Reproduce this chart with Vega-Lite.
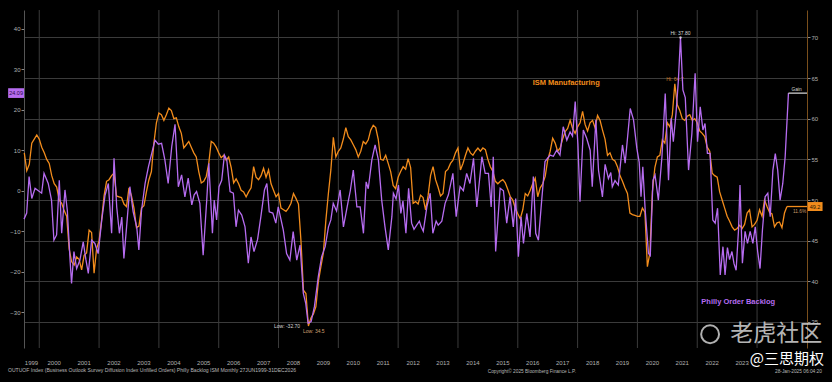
{
"$schema": "https://vega.github.io/schema/vega-lite/v6.json",
"width": 783, "height": 338,
"autosize": {"type": "none"},
"padding": {"left": 24, "top": 10, "right": 25, "bottom": 34},
"background": "#000000",
"config": {"view": {"stroke": null}, "font": "Liberation Sans"},
"datasets": {
"years": [{"t":2000},{"t":2002},{"t":2004},{"t":2006},{"t":2008},{"t":2010},{"t":2012},{"t":2014},{"t":2016},{"t":2018},{"t":2020},{"t":2022},{"t":2024}],
"labels": [{"t":1999.74,"s":"1999"},{"t":2000.5,"s":"2000"},{"t":2001.5,"s":"2001"},{"t":2002.5,"s":"2002"},{"t":2003.5,"s":"2003"},{"t":2004.5,"s":"2004"},{"t":2005.5,"s":"2005"},{"t":2006.5,"s":"2006"},{"t":2007.5,"s":"2007"},{"t":2008.5,"s":"2008"},{"t":2009.5,"s":"2009"},{"t":2010.5,"s":"2010"},{"t":2011.5,"s":"2011"},{"t":2012.5,"s":"2012"},{"t":2013.5,"s":"2013"},{"t":2014.5,"s":"2014"},{"t":2015.5,"s":"2015"},{"t":2016.5,"s":"2016"},{"t":2017.5,"s":"2017"},{"t":2018.5,"s":"2018"},{"t":2019.5,"s":"2019"},{"t":2020.5,"s":"2020"},{"t":2021.5,"s":"2021"},{"t":2022.5,"s":"2022"},{"t":2023.5,"s":"2023"}],
"ism": [
{"t":1999.5,"v":55.8},{"t":1999.583,"v":53.6},{"t":1999.667,"v":54.4},{"t":1999.75,"v":57.0},{"t":1999.833,"v":57.5},{"t":1999.917,"v":58.0},{"t":2000.0,"v":57.5},
{"t":2000.083,"v":56.5},{"t":2000.167,"v":55.8},{"t":2000.25,"v":55.0},{"t":2000.333,"v":54.5},{"t":2000.417,"v":53.0},{"t":2000.5,"v":52.0},{"t":2000.583,"v":51.6},{"t":2000.667,"v":50.0},{"t":2000.75,"v":49.6},{"t":2000.833,"v":48.7},{"t":2000.917,"v":48.0},{"t":2001.0,"v":44.0},
{"t":2001.083,"v":42.4},{"t":2001.167,"v":42.0},{"t":2001.25,"v":43.0},{"t":2001.333,"v":42.7},{"t":2001.417,"v":41.4},{"t":2001.5,"v":43.2},{"t":2001.583,"v":43.5},{"t":2001.667,"v":46.3},{"t":2001.75,"v":46.0},{"t":2001.833,"v":41.0},{"t":2001.917,"v":44.0},{"t":2002.0,"v":45.0},
{"t":2002.083,"v":47.5},{"t":2002.167,"v":50.5},{"t":2002.25,"v":52.3},{"t":2002.333,"v":52.5},{"t":2002.417,"v":53.0},{"t":2002.5,"v":53.3},{"t":2002.583,"v":50.5},{"t":2002.667,"v":50.4},{"t":2002.75,"v":50.3},{"t":2002.833,"v":49.5},{"t":2002.917,"v":49.2},{"t":2003.0,"v":51.5},
{"t":2003.083,"v":50.5},{"t":2003.167,"v":49.0},{"t":2003.25,"v":46.6},{"t":2003.333,"v":46.8},{"t":2003.417,"v":49.0},{"t":2003.5,"v":49.3},{"t":2003.583,"v":51.0},{"t":2003.667,"v":52.5},{"t":2003.75,"v":53.5},{"t":2003.833,"v":57.0},{"t":2003.917,"v":59.5},{"t":2004.0,"v":60.7},
{"t":2004.083,"v":60.5},{"t":2004.167,"v":59.8},{"t":2004.25,"v":60.5},{"t":2004.333,"v":61.3},{"t":2004.417,"v":61.0},{"t":2004.5,"v":60.0},{"t":2004.583,"v":60.1},{"t":2004.667,"v":59.0},{"t":2004.75,"v":58.2},{"t":2004.833,"v":56.4},{"t":2004.917,"v":56.8},{"t":2005.0,"v":57.2},
{"t":2005.083,"v":56.5},{"t":2005.167,"v":55.8},{"t":2005.25,"v":55.3},{"t":2005.333,"v":53.5},{"t":2005.417,"v":52.1},{"t":2005.5,"v":52.3},{"t":2005.583,"v":52.9},{"t":2005.667,"v":54.5},{"t":2005.75,"v":57.2},{"t":2005.833,"v":57.0},{"t":2005.917,"v":56.5},{"t":2006.0,"v":55.8},
{"t":2006.083,"v":55.2},{"t":2006.167,"v":55.5},{"t":2006.25,"v":54.9},{"t":2006.333,"v":55.3},{"t":2006.417,"v":54.0},{"t":2006.5,"v":52.1},{"t":2006.583,"v":52.6},{"t":2006.667,"v":52.0},{"t":2006.75,"v":51.2},{"t":2006.833,"v":51.0},{"t":2006.917,"v":50.4},{"t":2007.0,"v":51.0},
{"t":2007.083,"v":51.5},{"t":2007.167,"v":54.1},{"t":2007.25,"v":52.8},{"t":2007.333,"v":52.5},{"t":2007.417,"v":53.0},{"t":2007.5,"v":53.9},{"t":2007.583,"v":52.8},{"t":2007.667,"v":53.7},{"t":2007.75,"v":52.0},{"t":2007.833,"v":51.2},{"t":2007.917,"v":50.4},{"t":2008.0,"v":50.8},
{"t":2008.083,"v":49.0},{"t":2008.167,"v":48.8},{"t":2008.25,"v":48.6},{"t":2008.333,"v":49.0},{"t":2008.417,"v":49.6},{"t":2008.5,"v":50.8},{"t":2008.583,"v":50.2},{"t":2008.667,"v":49.5},{"t":2008.75,"v":45.0},{"t":2008.833,"v":38.9},{"t":2008.917,"v":38.5},{"t":2009.0,"v":34.5},
{"t":2009.083,"v":35.5},{"t":2009.167,"v":36.0},{"t":2009.25,"v":36.9},{"t":2009.333,"v":40.0},{"t":2009.417,"v":41.8},{"t":2009.5,"v":43.5},{"t":2009.583,"v":47.5},{"t":2009.667,"v":50.8},{"t":2009.75,"v":53.7},{"t":2009.833,"v":57.7},{"t":2009.917,"v":55.3},{"t":2010.0,"v":56.0},
{"t":2010.083,"v":56.4},{"t":2010.167,"v":57.5},{"t":2010.25,"v":58.9},{"t":2010.333,"v":57.8},{"t":2010.417,"v":57.4},{"t":2010.5,"v":56.8},{"t":2010.583,"v":56.2},{"t":2010.667,"v":55.3},{"t":2010.75,"v":56.0},{"t":2010.833,"v":57.2},{"t":2010.917,"v":56.9},{"t":2011.0,"v":57.4},
{"t":2011.083,"v":58.6},{"t":2011.167,"v":59.2},{"t":2011.25,"v":58.9},{"t":2011.333,"v":57.5},{"t":2011.417,"v":55.0},{"t":2011.5,"v":54.9},{"t":2011.583,"v":55.5},{"t":2011.667,"v":54.5},{"t":2011.75,"v":53.5},{"t":2011.833,"v":51.8},{"t":2011.917,"v":51.4},{"t":2012.0,"v":52.8},
{"t":2012.083,"v":53.5},{"t":2012.167,"v":54.1},{"t":2012.25,"v":53.8},{"t":2012.333,"v":55.1},{"t":2012.417,"v":54.0},{"t":2012.5,"v":49.6},{"t":2012.583,"v":49.8},{"t":2012.667,"v":49.5},{"t":2012.75,"v":50.6},{"t":2012.833,"v":50.3},{"t":2012.917,"v":48.8},{"t":2013.0,"v":50.5},
{"t":2013.083,"v":53.0},{"t":2013.167,"v":54.1},{"t":2013.25,"v":52.5},{"t":2013.333,"v":51.6},{"t":2013.417,"v":50.5},{"t":2013.5,"v":50.8},{"t":2013.583,"v":53.5},{"t":2013.667,"v":53.8},{"t":2013.75,"v":54.5},{"t":2013.833,"v":54.9},{"t":2013.917,"v":55.8},{"t":2014.0,"v":56.4},
{"t":2014.083,"v":53.7},{"t":2014.167,"v":54.5},{"t":2014.25,"v":55.5},{"t":2014.333,"v":56.4},{"t":2014.417,"v":55.8},{"t":2014.5,"v":55.5},{"t":2014.583,"v":56.0},{"t":2014.667,"v":56.4},{"t":2014.75,"v":56.0},{"t":2014.833,"v":56.4},{"t":2014.917,"v":56.2},{"t":2015.0,"v":55.0},
{"t":2015.083,"v":54.1},{"t":2015.167,"v":53.5},{"t":2015.25,"v":52.3},{"t":2015.333,"v":52.0},{"t":2015.417,"v":52.3},{"t":2015.5,"v":52.5},{"t":2015.583,"v":52.1},{"t":2015.667,"v":51.3},{"t":2015.75,"v":50.4},{"t":2015.833,"v":50.0},{"t":2015.917,"v":49.0},{"t":2016.0,"v":48.3},
{"t":2016.083,"v":47.7},{"t":2016.167,"v":48.8},{"t":2016.25,"v":50.8},{"t":2016.333,"v":50.5},{"t":2016.417,"v":51.2},{"t":2016.5,"v":52.0},{"t":2016.583,"v":52.7},{"t":2016.667,"v":50.4},{"t":2016.75,"v":51.5},{"t":2016.833,"v":52.0},{"t":2016.917,"v":52.9},{"t":2017.0,"v":54.9},
{"t":2017.083,"v":56.0},{"t":2017.167,"v":57.6},{"t":2017.25,"v":57.0},{"t":2017.333,"v":56.0},{"t":2017.417,"v":56.4},{"t":2017.5,"v":57.5},{"t":2017.583,"v":58.4},{"t":2017.667,"v":58.8},{"t":2017.75,"v":59.8},{"t":2017.833,"v":58.8},{"t":2017.917,"v":58.2},{"t":2018.0,"v":59.0},
{"t":2018.083,"v":59.5},{"t":2018.167,"v":60.9},{"t":2018.25,"v":59.3},{"t":2018.333,"v":58.5},{"t":2018.417,"v":59.5},{"t":2018.5,"v":59.8},{"t":2018.583,"v":58.9},{"t":2018.667,"v":60.4},{"t":2018.75,"v":59.8},{"t":2018.833,"v":58.6},{"t":2018.917,"v":57.5},{"t":2019.0,"v":55.5},
{"t":2019.083,"v":55.8},{"t":2019.167,"v":55.0},{"t":2019.25,"v":54.8},{"t":2019.333,"v":54.1},{"t":2019.417,"v":53.0},{"t":2019.5,"v":52.3},{"t":2019.583,"v":51.5},{"t":2019.667,"v":50.8},{"t":2019.75,"v":48.4},{"t":2019.833,"v":48.2},{"t":2019.917,"v":48.1},{"t":2020.0,"v":48.0},
{"t":2020.083,"v":48.0},{"t":2020.167,"v":49.0},{"t":2020.25,"v":48.5},{"t":2020.333,"v":41.8},{"t":2020.417,"v":43.5},{"t":2020.5,"v":51.0},{"t":2020.583,"v":54.0},{"t":2020.667,"v":55.3},{"t":2020.75,"v":55.5},{"t":2020.833,"v":57.4},{"t":2020.917,"v":57.0},{"t":2021.0,"v":59.5},
{"t":2021.083,"v":59.0},{"t":2021.167,"v":60.5},{"t":2021.25,"v":64.3},{"t":2021.333,"v":61.7},{"t":2021.417,"v":61.0},{"t":2021.5,"v":60.0},{"t":2021.583,"v":59.8},{"t":2021.667,"v":60.3},{"t":2021.75,"v":60.5},{"t":2021.833,"v":59.8},{"t":2021.917,"v":60.0},{"t":2022.0,"v":59.5},
{"t":2022.083,"v":58.5},{"t":2022.167,"v":58.2},{"t":2022.25,"v":57.8},{"t":2022.333,"v":56.5},{"t":2022.417,"v":56.0},{"t":2022.5,"v":53.3},{"t":2022.583,"v":53.0},{"t":2022.667,"v":52.8},{"t":2022.75,"v":51.0},{"t":2022.833,"v":50.0},{"t":2022.917,"v":49.0},{"t":2023.0,"v":48.0},
{"t":2023.083,"v":47.4},{"t":2023.167,"v":46.7},{"t":2023.25,"v":46.3},{"t":2023.333,"v":46.5},{"t":2023.417,"v":46.9},{"t":2023.5,"v":46.5},{"t":2023.583,"v":47.0},{"t":2023.667,"v":48.4},{"t":2023.75,"v":48.8},{"t":2023.833,"v":46.7},{"t":2023.917,"v":47.0},{"t":2024.0,"v":47.5},
{"t":2024.083,"v":48.8},{"t":2024.167,"v":48.0},{"t":2024.25,"v":50.0},{"t":2024.333,"v":49.2},{"t":2024.417,"v":48.5},{"t":2024.5,"v":48.3},{"t":2024.583,"v":46.7},{"t":2024.667,"v":47.2},{"t":2024.75,"v":47.3},{"t":2024.833,"v":46.6},{"t":2024.917,"v":48.4},{"t":2025.0,"v":49.2}
],
"philly": [
{"t":1999.49,"v":-7},{"t":1999.58,"v":-5.5},{"t":1999.66,"v":3.5},{"t":1999.75,"v":-1.9},{"t":1999.86,"v":0.6},{"t":1999.97,"v":0},{"t":2000.08,"v":-0.6},{"t":2000.16,"v":4.3},{"t":2000.3,"v":1.8},{"t":2000.41,"v":-2.3},{"t":2000.49,"v":-12.2},{"t":2000.58,"v":-10.9},{"t":2000.67,"v":2.6},{"t":2000.75,"v":-10.5},{"t":2000.86,"v":0.2},{"t":2000.94,"v":-5},
{"t":2001.03,"v":-17.1},{"t":2001.08,"v":-22.9},{"t":2001.16,"v":-15},{"t":2001.25,"v":-19.2},{"t":2001.36,"v":-17.1},{"t":2001.47,"v":-12.6},{"t":2001.56,"v":-17},{"t":2001.64,"v":-20.4},{"t":2001.75,"v":-12.2},{"t":2001.86,"v":-13},{"t":2001.97,"v":-15.5},
{"t":2002.09,"v":-7.2},{"t":2002.2,"v":-1.1},{"t":2002.31,"v":1.8},{"t":2002.42,"v":-10.5},{"t":2002.5,"v":8},{"t":2002.59,"v":-4},{"t":2002.68,"v":-10.5},{"t":2002.76,"v":-6.5},{"t":2002.83,"v":-16.7},{"t":2002.92,"v":-8.9},
{"t":2003.03,"v":1},{"t":2003.14,"v":-5.2},{"t":2003.26,"v":-9},{"t":2003.33,"v":-14.6},{"t":2003.42,"v":-4.8},{"t":2003.54,"v":1.8},{"t":2003.65,"v":5.9},{"t":2003.76,"v":9.2},{"t":2003.87,"v":12.5},{"t":2003.98,"v":11.5},
{"t":2004.09,"v":11.7},{"t":2004.2,"v":7.6},{"t":2004.31,"v":1.8},{"t":2004.43,"v":10.9},{"t":2004.54,"v":16.4},{"t":2004.65,"v":1},{"t":2004.76,"v":3.9},{"t":2004.87,"v":-1.5},{"t":2004.98,"v":3.1},
{"t":2005.1,"v":-3.5},{"t":2005.18,"v":-1},{"t":2005.26,"v":-0.2},{"t":2005.37,"v":-3.1},{"t":2005.48,"v":-15.9},{"t":2005.6,"v":-2.3},{"t":2005.67,"v":6.8},{"t":2005.79,"v":-10.5},{"t":2005.85,"v":-2.3},{"t":2005.93,"v":-7.2},
{"t":2006.01,"v":1},{"t":2006.1,"v":2.6},{"t":2006.19,"v":8.8},{"t":2006.27,"v":7.6},{"t":2006.38,"v":-0.2},{"t":2006.49,"v":-0.6},{"t":2006.58,"v":-8.9},{"t":2006.66,"v":-4.8},{"t":2006.77,"v":-6},{"t":2006.88,"v":-8.9},{"t":2006.99,"v":-17.9},
{"t":2007.08,"v":-11.4},{"t":2007.18,"v":-15},{"t":2007.3,"v":-12},{"t":2007.41,"v":-6.4},{"t":2007.53,"v":0.2},{"t":2007.61,"v":1.8},{"t":2007.69,"v":-5.2},{"t":2007.81,"v":-5.5},{"t":2007.91,"v":-8},{"t":2007.99,"v":-4},
{"t":2008.08,"v":-7},{"t":2008.16,"v":-9.7},{"t":2008.27,"v":-15.5},{"t":2008.38,"v":-17.1},{"t":2008.49,"v":-10.1},{"t":2008.61,"v":-17.1},{"t":2008.72,"v":-13.4},{"t":2008.83,"v":-25.3},{"t":2008.91,"v":-27.8},{"t":2008.99,"v":-32.7},
{"t":2009.09,"v":-32.3},{"t":2009.2,"v":-28.6},{"t":2009.33,"v":-21.2},{"t":2009.44,"v":-16.3},{"t":2009.56,"v":-13.8},{"t":2009.67,"v":-8.9},{"t":2009.75,"v":-7.2},{"t":2009.83,"v":-3.1},{"t":2009.94,"v":-5},
{"t":2010.06,"v":0.2},{"t":2010.17,"v":-8.9},{"t":2010.32,"v":-3},{"t":2010.4,"v":0},{"t":2010.5,"v":5.1},{"t":2010.62,"v":-4},{"t":2010.73,"v":-4},{"t":2010.84,"v":-10.5},{"t":2010.93,"v":2.2},
{"t":2011.0,"v":0.5},{"t":2011.12,"v":7.6},{"t":2011.23,"v":11.3},{"t":2011.34,"v":7.6},{"t":2011.45,"v":-2.3},{"t":2011.56,"v":-8.9},{"t":2011.67,"v":-14.6},{"t":2011.79,"v":-6.4},{"t":2011.84,"v":-0.6},{"t":2011.93,"v":-2},
{"t":2012.01,"v":1.4},{"t":2012.09,"v":-5.6},{"t":2012.16,"v":-2.5},{"t":2012.26,"v":-10.5},{"t":2012.35,"v":0.6},{"t":2012.45,"v":-8},{"t":2012.53,"v":-9.5},{"t":2012.62,"v":-8.5},{"t":2012.71,"v":-7.5},{"t":2012.77,"v":-8.9},{"t":2012.84,"v":-10},{"t":2012.96,"v":-4},
{"t":2013.07,"v":-0.6},{"t":2013.16,"v":-10.5},{"t":2013.27,"v":-7.5},{"t":2013.34,"v":-8.5},{"t":2013.46,"v":-7.5},{"t":2013.57,"v":-3.1},{"t":2013.68,"v":-1},{"t":2013.83,"v":4.3},{"t":2013.94,"v":-6.4},
{"t":2014.07,"v":1},{"t":2014.18,"v":0},{"t":2014.29,"v":4.3},{"t":2014.4,"v":1.8},{"t":2014.52,"v":8},{"t":2014.63,"v":-4},{"t":2014.8,"v":8.4},{"t":2014.91,"v":4.3},
{"t":2015.02,"v":4.3},{"t":2015.11,"v":-4},{"t":2015.18,"v":8.4},{"t":2015.26,"v":-15},{"t":2015.41,"v":0.6},{"t":2015.52,"v":0},{"t":2015.63,"v":-8},{"t":2015.74,"v":-1.5},{"t":2015.85,"v":-8.9},{"t":2015.93,"v":-1.9},
{"t":2016.02,"v":-16.3},{"t":2016.11,"v":-6.4},{"t":2016.19,"v":-13},{"t":2016.3,"v":-5.6},{"t":2016.41,"v":-11.4},{"t":2016.52,"v":3.5},{"t":2016.6,"v":-10.5},{"t":2016.69,"v":-12.2},{"t":2016.8,"v":-2.3},{"t":2016.91,"v":7.2},
{"t":2017.08,"v":8.8},{"t":2017.19,"v":8.5},{"t":2017.3,"v":10},{"t":2017.41,"v":8.8},{"t":2017.52,"v":15.8},{"t":2017.64,"v":12.5},{"t":2017.75,"v":14.5},{"t":2017.83,"v":13.5},{"t":2017.92,"v":22},
{"t":2018.01,"v":11.5},{"t":2018.08,"v":-2.7},{"t":2018.19,"v":15},{"t":2018.3,"v":13},{"t":2018.42,"v":10},{"t":2018.49,"v":1},{"t":2018.61,"v":17.5},{"t":2018.7,"v":5},{"t":2018.83,"v":-1.5},{"t":2018.92,"v":6.5},
{"t":2019.03,"v":3},{"t":2019.11,"v":4.5},{"t":2019.16,"v":1},{"t":2019.25,"v":2.5},{"t":2019.36,"v":1.4},{"t":2019.5,"v":11.3},{"t":2019.59,"v":6.8},{"t":2019.76,"v":20.3},{"t":2019.87,"v":17.5},{"t":2019.98,"v":10.5},
{"t":2020.06,"v":7},{"t":2020.12,"v":-1.5},{"t":2020.18,"v":5.9},{"t":2020.26,"v":-4.8},{"t":2020.37,"v":-15.5},{"t":2020.43,"v":-16},{"t":2020.52,"v":2.6},{"t":2020.59,"v":3.9},{"t":2020.7,"v":-2.3},{"t":2020.82,"v":8.4},{"t":2020.93,"v":24},
{"t":2021.04,"v":2.6},{"t":2021.13,"v":17.9},{"t":2021.2,"v":12.1},{"t":2021.29,"v":19.1},{"t":2021.37,"v":27.3},{"t":2021.44,"v":37.8},{"t":2021.52,"v":24.9},{"t":2021.6,"v":23},{"t":2021.71,"v":5.1},{"t":2021.82,"v":14},{"t":2021.93,"v":29},
{"t":2022.01,"v":12.1},{"t":2022.1,"v":20.7},{"t":2022.19,"v":15},{"t":2022.26,"v":16.6},{"t":2022.34,"v":9.2},{"t":2022.43,"v":9.2},{"t":2022.52,"v":-7.2},{"t":2022.6,"v":-8},{"t":2022.68,"v":-4.3},{"t":2022.77,"v":-20.8},{"t":2022.86,"v":-13.8},{"t":2022.93,"v":-20.8},
{"t":2023.01,"v":-14},{"t":2023.08,"v":-17},{"t":2023.16,"v":-15},{"t":2023.23,"v":-18},{"t":2023.3,"v":-19.6},{"t":2023.38,"v":-9.7},{"t":2023.43,"v":1.4},{"t":2023.51,"v":-17.9},{"t":2023.6,"v":-10},{"t":2023.68,"v":-13},{"t":2023.77,"v":-10},{"t":2023.86,"v":-13},{"t":2023.94,"v":-8.9},
{"t":2024.02,"v":-15},{"t":2024.1,"v":-19.2},{"t":2024.18,"v":-9.7},{"t":2024.27,"v":-1.5},{"t":2024.36,"v":-0.6},{"t":2024.44,"v":-6.4},{"t":2024.53,"v":5.1},{"t":2024.61,"v":9.2},{"t":2024.69,"v":5.1},{"t":2024.77,"v":-2.3},{"t":2024.86,"v":1.8},{"t":2024.94,"v":8.4},
{"t":2025.05,"v":24.09}
]
},
"layer": [
{
"data": {"name": "years"},
"mark": {"type": "rule", "color": "#3b3b3b", "strokeWidth": 1},
"encoding": {
"x": {"field": "t", "type": "quantitative",
"scale": {"domain": [1999.49, 2025.67], "nice": false, "zero": false},
"axis": {"orient": "bottom", "values": [2000,2001,2002,2003,2004,2005,2006,2007,2008,2009,2010,2011,2012,2013,2014,2015,2016,2017,2018,2019,2020,2021,2022,2023,2024,2025],
"labels": false, "ticks": true, "tickSize": 14, "tickColor": "#4a4a4a", "domainColor": "#8d8d5c", "domainWidth": 2, "grid": false, "title": null}}
}
},
{
"layer": [
{"data": {"name": "ism"},
"mark": {"type": "line", "color": "#f28c1c", "strokeWidth": 1.3},
"encoding": {
"x": {"field": "t", "type": "quantitative", "axis": null},
"y": {"field": "v", "type": "quantitative",
"scale": {"domain": [31.8, 73.37], "nice": false, "zero": false},
"axis": {"orient": "right", "values": [35,40,45,50,55,60,65,70], "grid": true, "gridColor": "#3b3b3b", "gridWidth": 1,
"domainColor": "#7a4f1c", "tickColor": "#8a8a8a", "tickSize": 3, "labelColor": "#b0b0b0", "labelFontSize": 6, "labelPadding": 1, "title": null}}
}},
{"data": {"values": [{"t": 2025.0, "t2": 2025.67, "v": 49.2}]},
"mark": {"type": "rule", "color": "#f28c1c", "strokeWidth": 1.3},
"encoding": {"x": {"field": "t", "type": "quantitative", "axis": null}, "x2": {"field": "t2"}, "y": {"field": "v", "type": "quantitative"}}},
{"data": {"values": [{"t": 2025.69, "t2": 2026.19, "v": 48.65, "v2": 49.75}]},
"mark": {"type": "rect", "color": "#f28c1c"},
"encoding": {"x": {"field": "t", "type": "quantitative", "axis": null}, "x2": {"field": "t2"}, "y": {"field": "v", "type": "quantitative"}, "y2": {"field": "v2"}}},
{"data": {"values": [{"t": 2025.94, "v": 49.2, "s": "49.2"}]},
"mark": {"type": "text", "color": "#2a1400", "fontSize": 5.5, "align": "center", "baseline": "middle"},
"encoding": {"x": {"field": "t", "type": "quantitative", "axis": null}, "y": {"field": "v", "type": "quantitative"}, "text": {"field": "s"}}},
{"data": {"values": [{"t": 2025.2, "v": 48.5, "s": "11.6%"}]},
"mark": {"type": "text", "color": "#c89a6a", "fontSize": 4.8, "align": "left", "baseline": "middle"},
"encoding": {"x": {"field": "t", "type": "quantitative", "axis": null}, "y": {"field": "v", "type": "quantitative"}, "text": {"field": "s"}}},
{"data": {"values": [{"t": 2017.62, "v": 64.4, "s": "ISM Manufacturing"}]},
"mark": {"type": "text", "color": "#f28c1c", "fontSize": 7.5, "fontWeight": "bold", "align": "center", "baseline": "middle"},
"encoding": {"x": {"field": "t", "type": "quantitative", "axis": null}, "y": {"field": "v", "type": "quantitative"}, "text": {"field": "s"}}},
{"data": {"values": [{"t": 2021.25, "v": 64.3, "s": "Hi: 64.7"}]},
"mark": {"type": "text", "color": "#c8782a", "fontSize": 5, "align": "center", "baseline": "bottom", "dy": -2},
"encoding": {"x": {"field": "t", "type": "quantitative", "axis": null}, "y": {"field": "v", "type": "quantitative"}, "text": {"field": "s"}}},
{"data": {"values": [{"t": 2008.95, "v": 34.5, "s": "Low: 34.5"}]},
"mark": {"type": "text", "color": "#d0a070", "fontSize": 5, "align": "left", "baseline": "top", "dy": 3, "dx": -4},
"encoding": {"x": {"field": "t", "type": "quantitative", "axis": null}, "y": {"field": "v", "type": "quantitative"}, "text": {"field": "s"}}}
]
},
{
"layer": [
{"data": {"name": "philly"},
"mark": {"type": "line", "color": "#b66cf0", "strokeWidth": 1.3},
"encoding": {
"x": {"field": "t", "type": "quantitative", "axis": null},
"y": {"field": "v", "type": "quantitative",
"scale": {"domain": [-38.8, 44.6], "nice": false, "zero": false},
"axis": {"orient": "left", "values": [-30,-20,-10,0,10,20,30,40], "grid": false, "domainColor": "#555555", "tickColor": "#8a8a8a", "tickSize": 3,
"labelColor": "#b0b0b0", "labelFontSize": 6, "labelPadding": 1, "title": null}}
}},
{"data": {"name": "labels"},
"mark": {"type": "text", "color": "#b0b0b0", "fontSize": 6, "align": "center", "baseline": "middle"},
"encoding": {"x": {"field": "t", "type": "quantitative", "axis": null}, "y": {"datum": -42.4, "type": "quantitative"}, "text": {"field": "s"}}},
{"data": {"values": [{"t": 2025.05, "t2": 2025.67, "v": 24.09}]},
"mark": {"type": "rule", "color": "#e0e0e0", "strokeWidth": 1.2},
"encoding": {"x": {"field": "t", "type": "quantitative", "axis": null}, "x2": {"field": "t2"}, "y": {"field": "v", "type": "quantitative"}}},
{"data": {"values": [{"t": 2025.15, "v": 24.09, "s": "Gain"}]},
"mark": {"type": "text", "color": "#d8d8d8", "fontSize": 4.8, "align": "left", "baseline": "bottom", "dy": -1},
"encoding": {"x": {"field": "t", "type": "quantitative", "axis": null}, "y": {"field": "v", "type": "quantitative"}, "text": {"field": "s"}}},
{"data": {"values": [{"t": 1998.96, "t2": 1999.49, "v": 22.9, "v2": 25.3}]},
"mark": {"type": "rect", "color": "#b66cf0"},
"encoding": {"x": {"field": "t", "type": "quantitative", "axis": null}, "x2": {"field": "t2"}, "y": {"field": "v", "type": "quantitative"}, "y2": {"field": "v2"}}},
{"data": {"values": [{"t": 1999.225, "v": 24.09, "s": "24.09"}]},
"mark": {"type": "text", "color": "#2a0a44", "fontSize": 5.5, "align": "center", "baseline": "middle"},
"encoding": {"x": {"field": "t", "type": "quantitative", "axis": null}, "y": {"field": "v", "type": "quantitative"}, "text": {"field": "s"}}},
{"data": {"values": [{"t": 2021.44, "v": 37.8}]},
"mark": {"type": "point", "color": "#ffffff", "filled": true, "size": 6},
"encoding": {"x": {"field": "t", "type": "quantitative", "axis": null}, "y": {"field": "v", "type": "quantitative"}}},
{"data": {"values": [{"t": 2021.44, "v": 37.8, "s": "Hi: 37.80"}]},
"mark": {"type": "text", "color": "#d8d8d8", "fontSize": 5, "align": "center", "baseline": "bottom", "dy": -2},
"encoding": {"x": {"field": "t", "type": "quantitative", "axis": null}, "y": {"field": "v", "type": "quantitative"}, "text": {"field": "s"}}},
{"data": {"values": [{"t": 2008.99, "v": -32.7, "s": "Low: -32.70"}]},
"mark": {"type": "text", "color": "#d8d8d8", "fontSize": 5, "align": "right", "baseline": "top", "dx": -8, "dy": 1},
"encoding": {"x": {"field": "t", "type": "quantitative", "axis": null}, "y": {"field": "v", "type": "quantitative"}, "text": {"field": "s"}}},
{"data": {"values": [{"t": 2023.37, "v": -27.5, "s": "Philly Order Backlog"}]},
"mark": {"type": "text", "color": "#b66cf0", "fontSize": 7.5, "fontWeight": "bold", "align": "center", "baseline": "middle"},
"encoding": {"x": {"field": "t", "type": "quantitative", "axis": null}, "y": {"field": "v", "type": "quantitative"}, "text": {"field": "s"}}},
{"data": {"values": [{"t": 1998.953, "v": -44.3, "s": "OUTUOF Index (Business Outlook Survey Diffusion Index Unfilled Orders) Philly Backlog ISM  Monthly 27JUN1999-31DEC2026"}]},
"mark": {"type": "text", "color": "#b8b8b8", "fontSize": 5.1, "align": "left", "baseline": "middle"},
"encoding": {"x": {"field": "t", "type": "quantitative", "axis": null}, "y": {"field": "v", "type": "quantitative"}, "text": {"field": "s"}}},
{"data": {"values": [{"t": 2016.47, "v": -44.6, "s": "Copyright© 2025 Bloomberg Finance L.P."}]},
"mark": {"type": "text", "color": "#b8b8b8", "fontSize": 4.8, "align": "center", "baseline": "middle"},
"encoding": {"x": {"field": "t", "type": "quantitative", "axis": null}, "y": {"field": "v", "type": "quantitative"}, "text": {"field": "s"}}},
{"data": {"values": [{"t": 2026.17, "v": -44.8, "s": "28-Jan-2025 06:04:20"}]},
"mark": {"type": "text", "color": "#b8b8b8", "fontSize": 4.8, "align": "right", "baseline": "middle"},
"encoding": {"x": {"field": "t", "type": "quantitative", "axis": null}, "y": {"field": "v", "type": "quantitative"}, "text": {"field": "s"}}},
{"data": {"values": [{"t": 2022.43, "v": -35.4}]},
"mark": {"type": "point", "shape": "circle", "filled": false, "color": "#cfcfcf", "strokeWidth": 2, "size": 320, "opacity": 0.85},
"encoding": {"x": {"field": "t", "type": "quantitative", "axis": null}, "y": {"field": "v", "type": "quantitative"}}},
{"data": {"values": [{"t": 2024.64, "v": -35.4, "s": "老虎社区"}]},
"mark": {"type": "text", "font": "Noto Sans CJK SC", "color": "#d4d4d4", "opacity": 0.85, "fontSize": 23, "align": "center", "baseline": "middle"},
"encoding": {"x": {"field": "t", "type": "quantitative", "axis": null}, "y": {"field": "v", "type": "quantitative"}, "text": {"field": "s"}}},
{"data": {"values": [{"t": 2025.0, "v": -41.6, "s": "@三思期权"}]},
"mark": {"type": "text", "font": "Noto Sans CJK SC", "color": "#ffffff", "fontSize": 15, "align": "center", "baseline": "middle"},
"encoding": {"x": {"field": "t", "type": "quantitative", "axis": null}, "y": {"field": "v", "type": "quantitative"}, "text": {"field": "s"}}}
]
}
],
"resolve": {"scale": {"y": "independent"}}
}
